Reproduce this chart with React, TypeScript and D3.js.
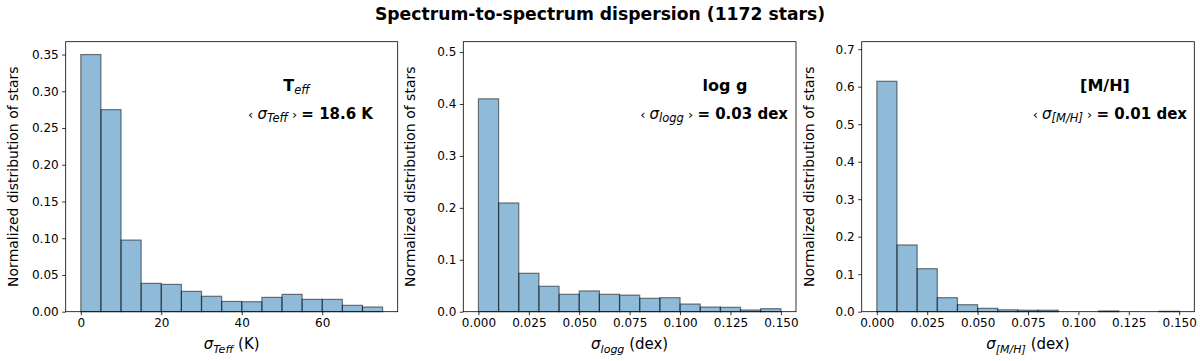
import React, {useEffect, useRef} from 'react';
import * as d3 from 'd3';

const teffBins = d3.range(0, 80, 5);
const teffValues = [0.35, 0.275, 0.0975, 0.0386, 0.0372, 0.0277, 0.021, 0.014, 0.0136, 0.0195, 0.0236, 0.0168, 0.0168, 0.0087, 0.0064];

const loggBins = d3.range(0, 16).map((i) => i / 100);
const loggValues = [0.41, 0.2094, 0.074, 0.049, 0.0335, 0.04, 0.0335, 0.032, 0.0258, 0.027, 0.0148, 0.009, 0.0085, 0.0033, 0.0058];

const mhBins = d3.range(0, 16).map((i) => i / 100);
const mhValues = [0.6145, 0.178, 0.1147, 0.0374, 0.0187, 0.009, 0.005, 0.004, 0.004, 0, 0, 0.002, 0, 0, 0.001];

const teffXTicks = [0, 20, 40, 60];
const dexXTicks = [0, 0.025, 0.05, 0.075, 0.1, 0.125, 0.15];
const teffYTicks = d3.range(0, 0.36, 0.05);
const loggYTicks = d3.range(0, 0.51, 0.1);
const mhYTicks = d3.range(0, 0.71, 0.1);

const FONT = '"DejaVu Sans", sans-serif';
const top = 41.7;
const bottom = 311.7;

const panels = [
    {
        left: 65.7, right: 397.7, bins: teffBins, values: teffValues,
        xDomain: [-3.75, 78.75], yMax: 0.3675,
        xTicks: teffXTicks, yTicks: teffYTicks, xFmt: 'd', yFmt: '.2f',
        name: 'T', nameSub: 'eff', sub: 'Teff', value: '18.6 K', labelX: 296.5, annoRight: 373,
        xUnit: ' (K)'
    },
    {
        left: 463.3, right: 796, bins: loggBins, values: loggValues,
        xDomain: [-0.0075, 0.1575], yMax: 0.52,
        xTicks: dexXTicks, yTicks: loggYTicks, xFmt: '.3f', yFmt: '.1f',
        name: 'log g', nameSub: '', sub: 'logg', value: '0.03 dex', labelX: 725, annoRight: 788,
        xUnit: ' (dex)'
    },
    {
        left: 861.7, right: 1194.3, bins: mhBins, values: mhValues,
        xDomain: [-0.0075, 0.1575], yMax: 0.72,
        xTicks: dexXTicks, yTicks: mhYTicks, xFmt: '.3f', yFmt: '.1f',
        name: '[M/H]', nameSub: '', sub: '[M/H]', value: '0.01 dex', labelX: 1105, annoRight: 1187,
        xUnit: ' (dex)'
    }
];

function Panel({p}) {
    const xAxisRef = useRef(null);
    const yAxisRef = useRef(null);

    const x = d3.scaleLinear().domain(p.xDomain).range([p.left, p.right]);
    const y = d3.scaleLinear().domain([0, p.yMax]).range([bottom, top]);

    useEffect(() => {
        const xAxis = d3.axisBottom(x).tickValues(p.xTicks).tickFormat(d3.format(p.xFmt)).tickSizeOuter(0).tickSize(3.5).tickPadding(3.5);
        const yAxis = d3.axisLeft(y).tickValues(p.yTicks).tickFormat(d3.format(p.yFmt)).tickSizeOuter(0).tickSize(3.5).tickPadding(3.5);
        for (const [ref, axis] of [[xAxisRef, xAxis], [yAxisRef, yAxis]]) {
            const g = d3.select(ref.current).call(axis);
            g.select('.domain').remove();
            g.selectAll('text').attr('font-family', FONT).attr('font-size', 12).attr('fill', '#000');
            g.selectAll('line').attr('stroke', '#000').attr('stroke-width', 0.8);
        }
    });

    const cx = (p.left + p.right) / 2;
    const cy = (top + bottom) / 2;

    return (
        <g>
            {p.values.map((v, i) => (
                <rect key={i}
                    x={x(p.bins[i])} y={y(v)}
                    width={x(p.bins[i + 1]) - x(p.bins[i])}
                    height={bottom - y(v)}
                    fill="#1f77b4" fillOpacity={0.5}
                    stroke="#000" strokeOpacity={0.5} strokeWidth={1.2} />
            ))}
            <rect x={p.left} y={top} width={p.right - p.left} height={bottom - top}
                fill="none" stroke="#000" strokeWidth={0.8} />
            <g ref={xAxisRef} transform={`translate(0, ${bottom})`} />
            <g ref={yAxisRef} transform={`translate(${p.left}, 0)`} />

            {/* x label */}
            <text x={cx} y={349} textAnchor="middle" fontFamily={FONT} fontSize={15}>
                <tspan fontStyle="italic">σ</tspan>
                <tspan fontStyle="italic" fontSize={11} dy={4}>{p.sub}</tspan>
                <tspan dy={-4}>{p.xUnit}</tspan>
            </text>
            {/* y label */}
            <text transform={`translate(${p.left - 48}, ${cy}) rotate(-90)`} textAnchor="middle"
                fontFamily={FONT} fontSize={14}>Normalized distribution of stars</text>

            {/* annotations */}
            <text x={p.labelX} y={91} textAnchor="middle" fontFamily={FONT} fontSize={16} fontWeight="bold">
                {p.name}
                {p.nameSub && <tspan fontWeight="normal" fontStyle="italic" fontSize={11.5} dy={3}>{p.nameSub}</tspan>}
            </text>
            <text x={p.annoRight} y={119} textAnchor="end" fontFamily={FONT} fontSize={15}>
                <tspan fontSize={13}>‹ </tspan>
                <tspan fontStyle="italic">σ</tspan>
                <tspan fontStyle="italic" fontSize={11.5} dy={3}>{p.sub}</tspan>
                <tspan fontSize={13} dy={-3}> › </tspan>
                <tspan fontWeight="bold" fontSize={15}>= {p.value}</tspan>
            </text>
        </g>
    );
}

export default function App() {
    return (
        <svg width={1200} height={361} style={{position: 'absolute', left: 0, top: 0, background: '#fff'}}>
            <text x={600} y={20} textAnchor="middle" fontFamily={FONT} fontSize={17.2} fontWeight="bold">
                Spectrum-to-spectrum dispersion (1172 stars)
            </text>
            {panels.map((p, i) => <Panel key={i} p={p} />)}
        </svg>
    );
}
